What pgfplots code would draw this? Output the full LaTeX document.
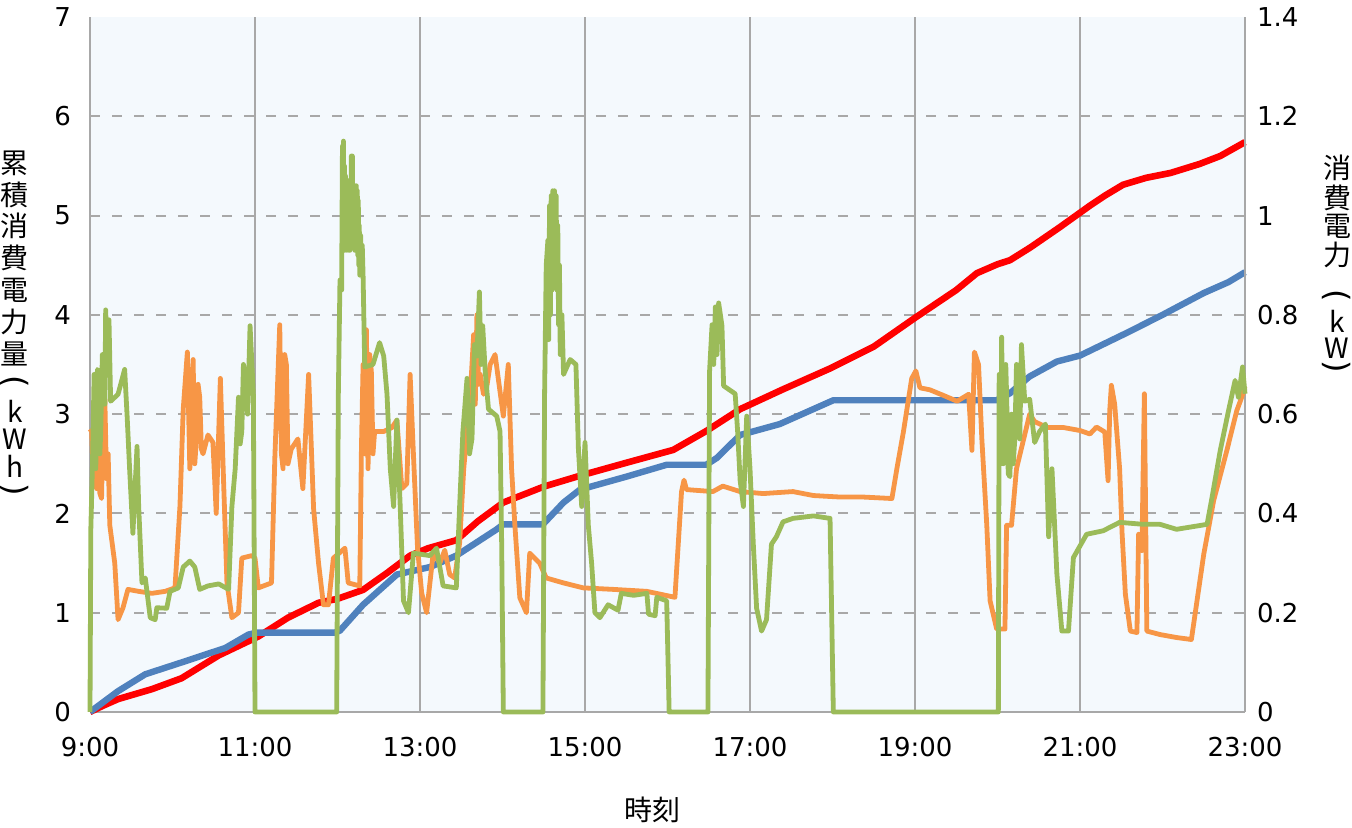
\documentclass[border=0pt]{standalone}
\usepackage{fontspec}
\usepackage{graphicx}
\setmainfont{DejaVu Sans}
\newfontfamily\jp{Noto Sans CJK JP}
\usepackage{pgfplots}
\pgfplotsset{compat=1.18}
\definecolor{cred}{HTML}{FF0000}
\definecolor{cblue}{HTML}{4F81BD}
\definecolor{corange}{HTML}{F79646}
\definecolor{cgreen}{HTML}{9BBB59}
\definecolor{gridgray}{HTML}{A8A8A8}
\definecolor{bgblue}{HTML}{F4F9FD}
\newcommand{\vparL}{\rotatebox[origin=c]{-90}{\fontsize{16}{18}\selectfont(}}
\newcommand{\vparR}{\rotatebox[origin=c]{-90}{\fontsize{16}{18}\selectfont)}}
\begin{document}
\begin{tikzpicture}
\useasboundingbox (0,0) rectangle (676pt,414pt);
\begin{axis}[
  at={(45pt,58pt)}, anchor=south west,
  scale only axis, width=577.5pt, height=347.5pt,
  xmin=9, xmax=23, ymin=0, ymax=7,
  xtick={9,11,13,15,17,19,21,23},
  xticklabels={9:00,11:00,13:00,15:00,17:00,19:00,21:00,23:00},
  ytick={0,1,2,3,4,5,6}, yticklabels={0,1,2,3,4,5,6},
  extra y ticks={7}, extra y tick labels={7}, extra y tick style={grid=none},
  axis x line*=bottom, axis y line*=left,
  axis line style={draw=gridgray, line width=1pt, -},
  major tick length=0pt,
  xmajorgrids, ymajorgrids,
  x grid style={gridgray, line width=1pt},
  y grid style={gridgray, line width=1pt, dash pattern=on 5pt off 6pt},
  axis background/.style={fill=bgblue},
  tick label style={font=\fontsize{13}{15}\selectfont},
  xticklabel style={yshift=-9pt},
  yticklabel style={xshift=-6pt},
  clip=false,
]
\addplot[cred, line width=3.3pt, line join=round] coordinates {
(9.0,0) (9.15,0.06) (9.34,0.13) (9.75,0.23) (10.11,0.34) (10.56,0.57) (11.04,0.76)
(11.4,0.95) (11.77,1.10) (12.0,1.14) (12.31,1.23) (12.6,1.40) (12.88,1.575) (13.1,1.65)
(13.44,1.73) (13.7,1.92) (14.01,2.11) (14.5,2.27) (14.94,2.38) (15.5,2.51) (16.07,2.64)
(16.47,2.83) (16.88,3.05) (17.4,3.25) (17.97,3.46) (18.5,3.68) (19.0,3.97) (19.5,4.25)
(19.75,4.42) (20.0,4.51) (20.15,4.55) (20.4,4.68) (20.75,4.88) (21.12,5.10) (21.3,5.2)
(21.52,5.31) (21.8,5.38) (22.1,5.43) (22.45,5.52) (22.7,5.6) (23.0,5.74)
};
\addplot[cblue, line width=3.2pt, line join=round] coordinates {
(9.0,0) (9.34,0.21) (9.67,0.38) (10.15,0.51) (10.64,0.645) (10.92,0.78) (11.02,0.80)
(11.97,0.80) (12.03,0.82) (12.31,1.08) (12.72,1.385) (13.12,1.46) (13.44,1.575)
(13.93,1.84) (14.01,1.89) (14.49,1.89) (14.74,2.11) (14.94,2.24) (15.5,2.37) (15.99,2.49)
(16.47,2.49) (16.6,2.56) (16.88,2.79) (17.36,2.90) (18.01,3.14) (19.99,3.14) (20.15,3.21)
(20.39,3.38) (20.72,3.53) (21.0,3.59) (21.57,3.82) (22.0,4.0) (22.5,4.22) (22.8,4.33) (23.0,4.43)
};
\end{axis}
\begin{axis}[
  at={(45pt,58pt)}, anchor=south west,
  scale only axis, width=577.5pt, height=347.5pt,
  xmin=9, xmax=23, ymin=0, ymax=1.4,
  axis y line*=right, axis x line=none,
  ytick={0,0.2,0.4,0.6,0.8,1,1.2,1.4},
  yticklabels={0,0.2,0.4,0.6,0.8,1,1.2,1.4},
  axis line style={draw=gridgray, line width=1pt, -},
  major tick length=0pt,
  tick label style={font=\fontsize{13}{15}\selectfont},
  yticklabel style={xshift=2.5pt},
  clip=false,
]
\addplot[corange, line width=2.4pt, line join=round] coordinates {
(9.00,0.57) (9.02,0.565) (9.04,0.47) (9.06,0.58) (9.08,0.45) (9.10,0.55) (9.12,0.44) (9.14,0.43)
(9.16,0.60) (9.18,0.63) (9.20,0.47) (9.22,0.52)
(9.24,0.376) (9.30,0.30) (9.34,0.186) (9.40,0.21) (9.46,0.247) (9.59,0.243) (9.75,0.239)
(9.91,0.243) (10.03,0.25) (10.09,0.414) (10.13,0.61) (10.18,0.725) (10.21,0.49) (10.25,0.71)
(10.27,0.50) (10.29,0.55) (10.31,0.66) (10.33,0.634) (10.35,0.53) (10.37,0.52) (10.43,0.558) (10.49,0.543) (10.53,0.40) (10.58,0.672)
(10.62,0.46) (10.66,0.26) (10.72,0.19) (10.80,0.20) (10.84,0.31) (10.96,0.315) (11.00,0.31)
(11.04,0.25) (11.20,0.26) (11.24,0.51) (11.30,0.78) (11.32,0.52) (11.34,0.49) (11.36,0.72) (11.38,0.70) (11.40,0.50) (11.44,0.53)
(11.52,0.55) (11.58,0.45) (11.65,0.68) (11.71,0.41) (11.77,0.30) (11.83,0.216) (11.89,0.216)
(11.95,0.31) (12.02,0.32) (12.09,0.33) (12.13,0.26) (12.27,0.254) (12.29,0.53) (12.31,0.70) (12.33,0.52) (12.35,0.77)
(12.37,0.49) (12.39,0.72) (12.41,0.687) (12.43,0.52) (12.45,0.565) (12.56,0.565) (12.66,0.573) (12.72,0.588) (12.78,0.45)
(12.84,0.46) (12.88,0.68) (12.92,0.52) (12.97,0.33) (13.02,0.24) (13.08,0.20) (13.12,0.26)
(13.16,0.32) (13.24,0.30) (13.30,0.326) (13.36,0.277) (13.42,0.27) (13.48,0.34) (13.53,0.49)
(13.61,0.64) (13.65,0.76) (13.67,0.62) (13.69,0.80) (13.71,0.66) (13.73,0.68) (13.77,0.64) (13.81,0.656) (13.85,0.70) (13.91,0.72) (13.95,0.67)
(14.01,0.596) (14.07,0.70) (14.11,0.49) (14.15,0.376) (14.21,0.23) (14.29,0.20) (14.33,0.32)
(14.39,0.31) (14.45,0.30) (14.53,0.27) (14.74,0.26) (14.98,0.25) (15.34,0.247) (15.75,0.243)
(16.09,0.231) (16.13,0.338) (16.17,0.444) (16.20,0.467) (16.23,0.448) (16.55,0.444)
(16.67,0.455) (16.88,0.444) (17.16,0.44) (17.52,0.444) (17.77,0.436) (18.09,0.433)
(18.37,0.433) (18.72,0.43) (18.78,0.49) (18.86,0.565) (18.96,0.672) (19.01,0.687) (19.06,0.653)
(19.18,0.649) (19.34,0.638) (19.51,0.626) (19.65,0.64) (19.69,0.527) (19.72,0.725) (19.77,0.70)
(19.81,0.55) (19.87,0.376) (19.91,0.224) (19.99,0.167) (20.09,0.167) (20.11,0.376) (20.17,0.376)
(20.23,0.49) (20.39,0.60) (20.45,0.585) (20.60,0.573) (20.80,0.573) (21.00,0.567) (21.12,0.56)
(21.20,0.574) (21.30,0.564) (21.34,0.466) (21.36,0.607) (21.38,0.658) (21.42,0.62) (21.48,0.49)
(21.51,0.36) (21.55,0.237) (21.61,0.163) (21.69,0.16) (21.71,0.358) (21.75,0.325) (21.78,0.641)
(21.81,0.163) (21.97,0.156) (22.17,0.15) (22.35,0.146) (22.50,0.318) (22.62,0.426) (22.78,0.527)
(22.90,0.607) (22.96,0.634) (23.00,0.655)
};
\addplot[cgreen, line width=2.4pt, line join=round] coordinates {
(9.00,0) (9.01,0.368) (9.03,0.50) (9.05,0.68) (9.07,0.49) (9.09,0.69) (9.10,0.687) (9.12,0.52) (9.13,0.565) (9.15,0.72) (9.16,0.70) (9.18,0.62) (9.19,0.81) (9.21,0.70) (9.23,0.79)
(9.25,0.626) (9.34,0.64) (9.42,0.69) (9.45,0.596) (9.48,0.49) (9.52,0.36) (9.57,0.535) (9.59,0.414)
(9.63,0.26) (9.67,0.27) (9.73,0.19) (9.79,0.186) (9.81,0.21) (9.93,0.209) (9.97,0.243) (10.07,0.25)
(10.13,0.292) (10.21,0.304) (10.27,0.292) (10.33,0.247) (10.43,0.254) (10.56,0.258) (10.68,0.247)
(10.72,0.414) (10.76,0.49) (10.80,0.634) (10.82,0.54) (10.84,0.565) (10.86,0.70) (10.88,0.68) (10.91,0.60) (10.94,0.778) (10.98,0.64)
(11.00,0) (11.99,0) (12.01,0.64) (12.03,0.87) (12.05,0.85)
(12.060,1.14) (12.066,0.95) (12.072,1.15) (12.078,0.94) (12.084,1.10) (12.090,0.93) (12.096,1.08)
(12.102,0.95) (12.108,1.06) (12.114,0.93) (12.120,1.05) (12.126,0.94) (12.132,1.07) (12.138,0.93)
(12.144,1.04) (12.150,0.93) (12.156,1.06) (12.162,0.94) (12.168,1.12) (12.174,0.94) (12.180,1.12)
(12.186,0.95) (12.192,1.04) (12.198,0.95) (12.204,1.06) (12.210,0.93) (12.216,1.06) (12.222,0.96)
(12.228,1.06) (12.234,0.95) (12.240,1.05) (12.246,0.92) (12.252,1.03) (12.258,0.90) (12.264,0.98)
(12.270,0.88) (12.28,0.96) (12.29,0.90) (12.30,0.94) (12.31,0.88) (12.33,0.695) (12.43,0.70) (12.51,0.744)
(12.56,0.717) (12.60,0.64) (12.64,0.49) (12.68,0.414) (12.72,0.588) (12.76,0.414) (12.80,0.224)
(12.86,0.20) (12.92,0.32) (13.12,0.315) (13.20,0.33) (13.28,0.254) (13.44,0.25) (13.48,0.414)
(13.52,0.565) (13.57,0.672) (13.60,0.52) (13.63,0.55) (13.66,0.74) (13.69,0.717) (13.72,0.846) (13.74,0.70) (13.76,0.778) (13.79,0.687)
(13.83,0.61) (13.93,0.596) (13.97,0.565) (13.99,0.338) (14.01,0) (14.49,0) (14.51,0.64)
(14.53,0.90) (14.55,0.95) (14.56,0.75) (14.57,1.02) (14.58,0.80) (14.59,1.04) (14.60,0.85) (14.61,1.05)
(14.62,0.90) (14.63,1.05) (14.64,0.88) (14.65,1.04) (14.66,0.85) (14.67,0.98) (14.68,0.78)
(14.69,0.90) (14.70,0.72) (14.72,0.80) (14.74,0.68) (14.82,0.71) (14.89,0.70)
(14.92,0.53) (14.96,0.414) (15.00,0.543) (15.04,0.376) (15.08,0.30) (15.12,0.20) (15.18,0.19)
(15.28,0.216) (15.40,0.205) (15.44,0.239) (15.59,0.235) (15.75,0.239) (15.77,0.197) (15.85,0.194)
(15.87,0.231) (15.99,0.224) (16.02,0) (16.49,0) (16.51,0.687) (16.54,0.78) (16.56,0.70) (16.58,0.816) (16.60,0.72) (16.62,0.824)
(16.66,0.778) (16.68,0.657) (16.82,0.641) (16.85,0.565) (16.88,0.467) (16.92,0.414) (16.96,0.596)
(17.00,0.49) (17.04,0.338) (17.08,0.209) (17.14,0.163) (17.20,0.186) (17.26,0.338) (17.32,0.353)
(17.40,0.383) (17.52,0.39) (17.77,0.395) (17.97,0.39) (18.01,0) (20.01,0) (20.02,0.68)
(20.04,0.50) (20.05,0.755) (20.07,0.50) (20.08,0.565) (20.10,0.70) (20.11,0.64) (20.13,0.48) (20.15,0.474) (20.17,0.60) (20.19,0.50) (20.21,0.55) (20.23,0.70) (20.25,0.687) (20.27,0.55) (20.29,0.74)
(20.33,0.626) (20.39,0.63) (20.45,0.543) (20.51,0.565) (20.58,0.58) (20.62,0.353) (20.66,0.49)
(20.72,0.277) (20.78,0.163) (20.86,0.163) (20.92,0.311) (21.08,0.358) (21.28,0.365) (21.48,0.382)
(21.77,0.378) (21.97,0.378) (22.17,0.368) (22.54,0.378) (22.60,0.432) (22.70,0.527) (22.80,0.607)
(22.88,0.668) (22.92,0.634) (22.97,0.695) (23.00,0.641)
};
\end{axis}
% axis titles
\node[font=\jp\fontsize{14}{16}\selectfont] at (326pt,9pt) {時刻};
\foreach \c/\y in {累/332.5, 積/316.5, 消/301, 費/285, 電/269, 力/253, 量/237, k/208.5, W/194.5, h/181}
  \node[font=\jp\fontsize{14}{16}\selectfont, inner sep=0pt] at (7.5pt,\y pt) {\c};
\node[inner sep=0pt] at (7.5pt,222pt) {\vparL};
\node[inner sep=0pt] at (7.5pt,168pt) {\vparR};
\foreach \c/\y in {消/330, 費/315, 電/301, 力/286.5, k/253.5, W/240}
  \node[font=\jp\fontsize{14}{16}\selectfont, inner sep=0pt] at (668.5pt,\y pt) {\c};
\node[inner sep=0pt] at (668.5pt,265pt) {\vparL};
\node[inner sep=0pt] at (668.5pt,229.5pt) {\vparR};
\end{tikzpicture}
\end{document}
